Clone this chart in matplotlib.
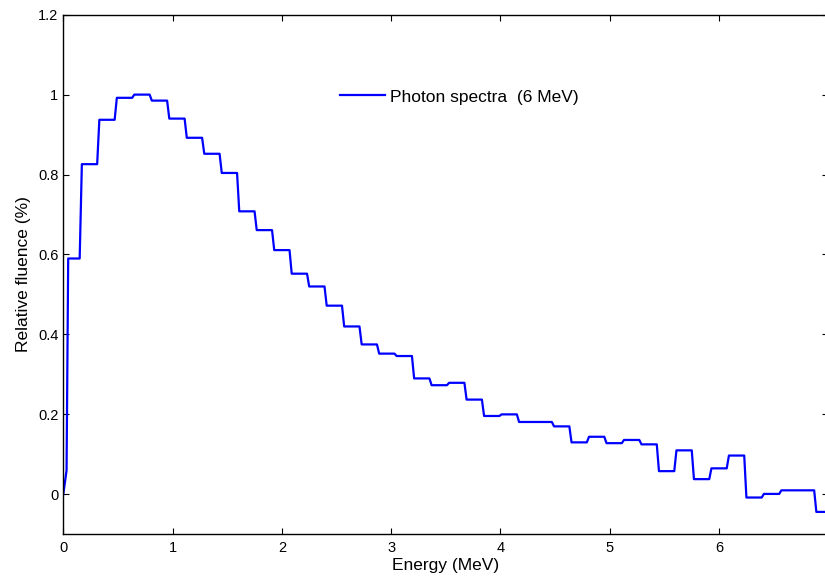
import numpy as np
import matplotlib
matplotlib.use('Agg')
import matplotlib.pyplot as plt

plt.rcParams['font.family'] = ['Liberation Sans', 'DejaVu Sans']

# photon spectrum: each level holds until the step end energy
onset_e = [0.0, 0.03]
onset_f = [0.0, 0.06]
first_step_start = 0.045
step_end = [0.15, 0.31, 0.47, 0.63, 0.79, 0.95, 1.11, 1.27, 1.43, 1.59,
            1.75, 1.91, 2.07, 2.23, 2.39, 2.55, 2.71, 2.87, 3.03, 3.19,
            3.35, 3.51, 3.67, 3.83, 3.99, 4.15, 4.31, 4.47, 4.63, 4.79,
            4.95, 5.11, 5.27, 5.43, 5.59, 5.75, 5.91, 6.07, 6.23, 6.39,
            6.55, 6.71, 6.87]
level = [0.59, 0.826, 0.937, 0.992, 1.0, 0.985, 0.940, 0.892, 0.852, 0.804,
         0.708, 0.661, 0.611, 0.552, 0.520, 0.472, 0.420, 0.375, 0.352, 0.346,
         0.290, 0.273, 0.279, 0.237, 0.196, 0.200, 0.181, 0.181, 0.170, 0.130,
         0.144, 0.128, 0.136, 0.125, 0.058, 0.110, 0.038, 0.065, 0.097, -0.008,
         0.001, 0.010, 0.010, -0.044]
e_max = 7.0
ramp = 0.02

xticks = [0, 1, 2, 3, 4, 5, 6, 7]
yticks = [0, 0.2, 0.4, 0.6, 0.8, 1.0, 1.2]
yticklabels = ['0', '0.2', '0.4', '0.6', '0.8', '1', '1.2']

# build the staircase vertices
starts = [first_step_start] + [e + ramp for e in step_end]
ends = step_end + [e_max]
x = list(onset_e)
y = list(onset_f)
for s, e, v in zip(starts, ends, level):
    x += [s, e]
    y += [v, v]

fig = plt.figure(figsize=(8.25, 5.8), dpi=100)
ax = fig.add_axes([0.0767, 0.0788, 0.9274, 0.8959])
ax.plot(x, y, color='#0000ff', lw=1.6, label='Photon spectra  (6 MeV)')

ax.set_xlim(0, 7)
ax.set_ylim(-0.1, 1.2)
ax.set_xticks(xticks)
ax.set_xticklabels([str(t) for t in xticks])
ax.set_yticks(yticks)
ax.set_yticklabels(yticklabels)
ax.tick_params(direction='in', top=True, right=True, length=4, width=0.8,
               labelsize=10.5, colors='black')
ax.tick_params(axis='x', pad=5)
ax.tick_params(axis='y', pad=3.5)
for sp in ax.spines.values():
    sp.set_linewidth(1.0)

ax.set_xlabel('Energy (MeV)', fontsize=12.5, labelpad=2)
ax.set_ylabel('Relative fluence (%)', fontsize=12.5, labelpad=5)

ax.legend(frameon=False, loc='center left', bbox_to_anchor=(0.3617, 0.8416),
          fontsize=12.5, handlelength=2.6, handletextpad=0.3,
          borderpad=0, borderaxespad=0)

fig.savefig('out.png', dpi=100)
